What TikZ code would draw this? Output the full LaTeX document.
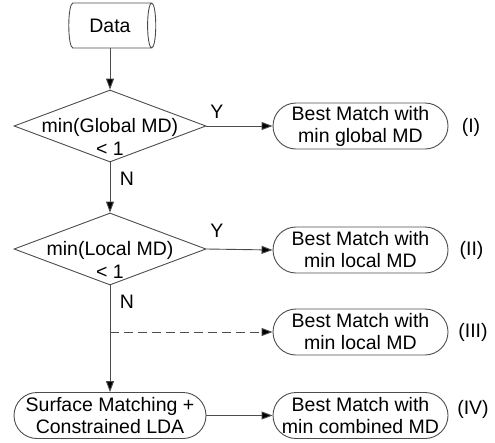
\documentclass[tikz,border=0pt]{standalone}
\usepackage{fontspec}
\setmainfont{Liberation Sans}
\usetikzlibrary{shapes.geometric,shapes.misc,arrows.meta}
\definecolor{linegray}{gray}{0.3}
\begin{document}
\begin{tikzpicture}[x=1pt,y=-1pt,
  every node/.style={font=\fontsize{19.5}{22}\selectfont, text=black},
  line/.style={draw=linegray, line width=0.9pt},
  flow/.style={line, -{Triangle[length=11pt,width=8pt,fill=black]}},
  dashflow/.style={flow, dash pattern=on 9pt off 5pt},
  decision/.style={diamond, draw=linegray, line width=0.9pt,
    minimum width=192pt, minimum height=72pt, inner sep=0pt},
  terminal/.style={rounded rectangle, draw=linegray, line width=0.9pt,
    minimum height=46pt, inner sep=0pt, align=center},
  result/.style={terminal, minimum width=175pt},
  tag/.style={inner sep=0pt}]
\useasboundingbox (0,0) rectangle (495,442);

% input data store
\node[cylinder, draw=linegray, line width=0.9pt, shape border rotate=0,
  aspect=0.6, minimum width=45pt, minimum height=87pt, inner sep=0pt]
  (data) at (110,25.5) {Data};

% decisions (outline plus two text lines)
\node[decision] (d1) at (110,126) {};
\node[anchor=base] (d1a) at (110,132.5) {min(Global MD)};
\node[anchor=base] (d1b) at (110,155) {< 1};

\node[decision] (d2) at (110,249) {};
\node[anchor=base] (d2a) at (110,255.5) {min(Local MD)};
\node[anchor=base] (d2b) at (110,278) {< 1};

% final stage
\node[terminal, minimum width=192pt] (lda) at (110,415.5)
  {Surface Matching +\\Constrained LDA};

% outcomes
\node[result] (r1) at (360.5,126) {Best Match with\\min global MD};
\node[result] (r2) at (360.5,250) {Best Match with\\min local MD};
\node[result] (r3) at (360.5,332) {Best Match with\\min local MD};
\node[result] (r4) at (360.5,415.5) {Best Match with\\min combined MD};

\node[tag] (t1) at (471,127) {(I)};
\node[tag] (t2) at (471.5,250) {(II)};
\node[tag] (t3) at (473,332) {(III)};
\node[tag] (t4) at (473,409) {(IV)};

% connectors
\draw[flow] (data.south -| d1.north) -- (d1.north);
\draw[flow] (d1.south) -- (d2.north);
\draw[flow] (d1.east) -- (r1.west);
\draw[flow] (d2.east) -- (r2.west);
\draw[flow] (d2.south) -- (lda.north);
\coordinate (split) at (d2.south |- r3.west);
\draw[dashflow] (split) -- (r3.west);
\draw[flow] (lda.east) -- (r4.west);

% branch labels
\node[anchor=base] (y1) at (217,118) {Y};
\node[anchor=base] (n1) at (127,185) {N};
\node[anchor=base] (y2) at (217,237) {Y};
\node[anchor=base] (n2) at (127,308) {N};
\end{tikzpicture}
\end{document}
